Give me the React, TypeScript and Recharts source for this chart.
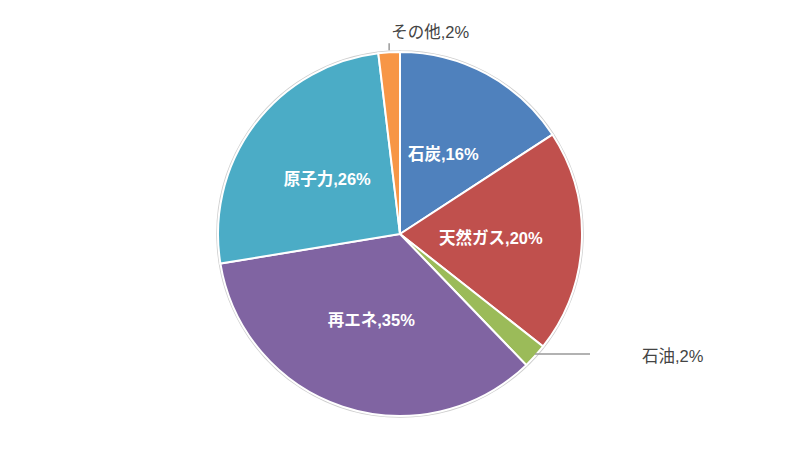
import React from "react";
import { PieChart, Pie, Cell } from "recharts";

const categories = ["石炭", "天然ガス", "石油", "再エネ", "原子力", "その他"];
const values = [15.8, 19.8, 2.2, 34.6, 25.7, 1.9];
const percentLabels = ["16%", "20%", "2%", "35%", "26%", "2%"];
const COLORS = ["#4F81BD", "#C0504D", "#9BBB59", "#8064A2", "#4BACC6", "#F79646"];

const data = categories.map((name, i) => ({ name, value: values[i], label: percentLabels[i] }));

const RADIAN = Math.PI / 180;
const FONT = '"Liberation Sans", Arial, "Noto Sans CJK JP", sans-serif';

const renderLabel = (props: any) => {
  const { cx, cy, midAngle, outerRadius, index } = props;
  const text = `${categories[index]},${percentLabels[index]}`;
  const cos = Math.cos(-midAngle * RADIAN);
  const sin = Math.sin(-midAngle * RADIAN);
  if (index === 2) {
    const x0 = cx + outerRadius * cos;
    const y0 = cy + outerRadius * sin - 2;
    return (
      <g key={`l${index}`}>
        <line x1={x0} y1={y0} x2={x0 + 55} y2={y0} stroke="#999" strokeWidth={1.5} />
        <text x={x0 + 107} y={y0 + 2} fill="#444" fontSize={16.5} fontFamily={FONT} dominantBaseline="central">
          {text}
        </text>
      </g>
    );
  }
  if (index === 5) {
    const x0 = cx + outerRadius * cos;
    const y0 = cy + outerRadius * sin;
    return (
      <g key={`l${index}`}>
        <line x1={x0} y1={y0 - 2} x2={x0} y2={y0 - 9} stroke="#999" strokeWidth={1.5} />
        <text x={x0 + 2} y={y0 - 20} fill="#444" fontSize={16.5} fontFamily={FONT} dominantBaseline="central">
          {text}
        </text>
      </g>
    );
  }
  const r = outerRadius * 0.5;
  const x = cx + r * cos;
  const y = cy + r * sin;
  return (
    <text
      key={`l${index}`}
      x={x}
      y={y}
      fill="#fff"
      fontSize={16.5}
      fontWeight={600}
      fontFamily={FONT}
      textAnchor="middle"
      dominantBaseline="central"
    >
      {text}
    </text>
  );
};

export default function App() {
  return (
    <div style={{ position: "absolute", left: 0, top: 0, width: 800, height: 467, background: "#fff" }}>
      <PieChart width={800} height={467} margin={{ top: 0, right: 0, bottom: 0, left: 0 }}>
        <Pie
          data={[{ name: "ring", value: 1 }]}
          dataKey="value"
          cx={400}
          cy={234}
          outerRadius={183}
          startAngle={90}
          endAngle={-270}
          fill="#fff"
          stroke="#cfcfcf"
          strokeWidth={1.5}
          isAnimationActive={false}
          label={false}
          labelLine={false}
        />
        <Pie
          data={data}
          dataKey="value"
          cx={400}
          cy={234}
          outerRadius={182}
          startAngle={90}
          endAngle={-270}
          stroke="#fff"
          strokeWidth={2}
          isAnimationActive={false}
          label={renderLabel}
          labelLine={false}
        >
          {data.map((d, i) => (
            <Cell key={d.name} fill={COLORS[i]} />
          ))}
        </Pie>
      </PieChart>
    </div>
  );
}
